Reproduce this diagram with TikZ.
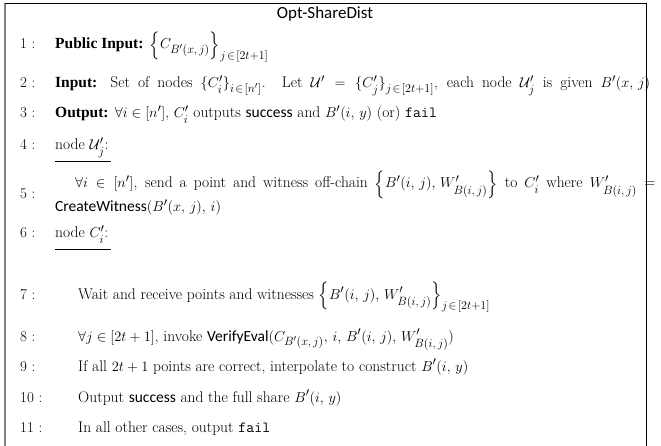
\documentclass[tikz,border=0pt]{standalone}
\usepackage{amsmath,amssymb}
\usepackage{fontspec}
\setsansfont{Carlito}
\newfontfamily\lblfont{Liberation Serif}
\DeclareMathSizes{15.5}{15.5}{12.5}{9.5}
\usetikzlibrary{calc}
\newcommand{\lbl}[1]{{\lblfont\bfseries #1}}
\newcommand{\subin}{\mkern2mu\in\mkern2mu}
\begin{document}
\begin{tikzpicture}[x=1pt,y=-1pt,
  txt/.style={anchor=base west,inner sep=0pt,font=\fontsize{15.5}{18}\selectfont},
  numlab/.style={anchor=base west,inner sep=0pt,font=\fontsize{15}{18}\selectfont},
  uline/.style={line width=0.7pt},
  ]
\useasboundingbox (0,0) rectangle (661,446);
\draw[gray,line width=1.4pt] (5,3) -- (5,446);
\draw[line width=0.9pt] (5,3) -- (646,3) -- (646,446);
\node[anchor=base,inner sep=0pt,font=\fontsize{17}{20}\selectfont\sffamily] (title) at (325,19) {Opt-ShareDist};
% line numbers
\node[numlab] (n1) at (20,49) {1 :};
\node[numlab] (n2) at (20,88) {2 :};
\node[numlab] (n3) at (20,118) {3 :};
\node[numlab] (n4) at (20,150) {4 :};
\node[numlab] (n5) at (20,199) {5 :};
\node[numlab] (n6) at (20,238) {6 :};
\node[numlab] (n7) at (20,299) {7 :};
\node[numlab] (n8) at (20,341) {8 :};
\node[numlab] (n9) at (20,371) {9 :};
\node[numlab] (n10) at (20,402) {10 :};
\node[numlab] (n11) at (20,432) {11 :};
% texts
\node[txt] (t1) at (55,49) {\lbl{Public Input:} $\left\{C_{B'(x,\,j)}\right\}_{j\subin[2t+1]}$};
\node[txt] (t2) at (55,88) {\makebox[595pt][s]{\lbl{Input:} Set of nodes $\{C'_i\}_{i\subin[n']}$. Let $\mathcal{U}'=\{C'_j\}_{j\subin[2t+1]}$, each node $\mathcal{U}'_j$ is given $B'(x,\,j)$}};
\node[txt] (t3) at (55,118) {\lbl{Output:} $\forall i\in[n']$, $C'_i$ outputs \textsf{success} and $B'(i,\,y)$ (or) \texttt{fail}};
\node[txt] (t4) at (55,150) {node $\mathcal{U}'_j$:};
\node[txt] (t5a) at (75,188) {\makebox[580pt][s]{$\forall i\in[n']$, send a point and witness off-chain $\left\{B'(i,\,j),\,W'_{B(i,\,j)}\right\}$ to $C'_i$ where $W'_{B(i,\,j)}$ =}};
\node[txt] (t5b) at (55,212) {\textsf{CreateWitness}$(B'(x,\,j),\,i)$};
\node[txt] (t6) at (55,238) {node $C'_i$:};
\node[txt] (t7) at (78,299) {Wait and receive points and witnesses $\left\{B'(i,\,j),\,W'_{B(i,\,j)}\right\}_{j\subin[2t+1]}$};
\node[txt] (t8) at (78,341) {$\forall j\in[2t+1]$, invoke \textsf{VerifyEval}$(C_{B'(x,\,j)},\,i,\,B'(i,\,j),\,W'_{B(i,\,j)})$};
\node[txt] (t9) at (78,371) {If all $2t+1$ points are correct, interpolate to construct $B'(i,\,y)$};
\node[txt] (t10) at (78,402) {Output \textsf{success} and the full share $B'(i,\,y)$};
\node[txt] (t11) at (78,432) {In all other cases, output \texttt{fail}};
% underlines
\draw[uline] ($(t4.base west)+(0,11)$) -- ($(t4.base east)+(2,11)$);
\draw[uline] ($(t6.base west)+(0,11)$) -- ($(t6.base east)+(2,11)$);
\end{tikzpicture}
\end{document}
